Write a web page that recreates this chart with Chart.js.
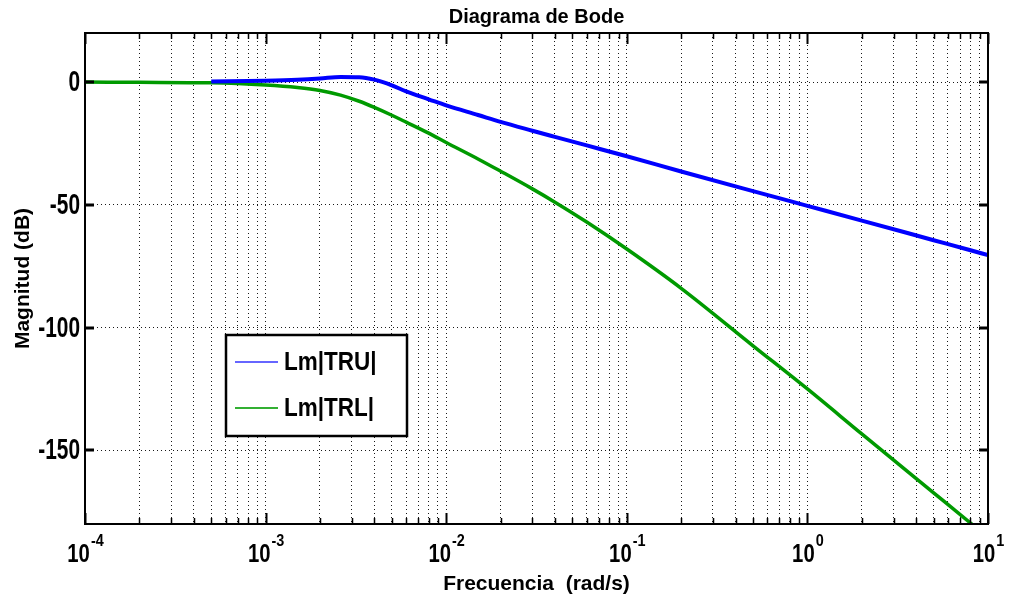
<!DOCTYPE html>
<html>
<head>
<meta charset="utf-8">
<script src="https://cdn.jsdelivr.net/npm/chart.js@4.4.0/dist/chart.umd.min.js"></script>
<style>
  body { margin: 0; background: #fff; }
</style>
</head>
<body>
<canvas id="bodeChart" width="1009" height="599"></canvas>
<script>
// frequencies (rad/s) and magnitudes (dB)
const freq = [1e-4, 2e-4, 5e-4, 1e-3, 1.5e-3, 2e-3, 2.6e-3, 3.3e-3, 4e-3, 5e-3, 6e-3, 8e-3, 1e-2, 1.5e-2, 2e-2, 3e-2, 4e-2, 6e-2, 0.1, 0.2, 0.5, 1, 2, 5, 8, 10];
const lmTRU = [null, null, 0.2, 0.6, 1.0, 1.5, 2.1, 2.0, 1.0, -1.3, -3.8, -7.0, -9.5, -13.4, -16.2, -19.8, -22.3, -25.8, -30.2, -36.4, -44.4, -50.4, -56.4, -64.4, -68.5, -70.5];
const lmTRL = [0, -0.1, -0.3, -1.2, -2.2, -3.4, -5.3, -7.8, -10.3, -13.5, -16.3, -20.8, -24.6, -31.3, -36.3, -43.5, -48.9, -57.0, -68.0, -84.0, -107.4, -125.0, -143.3, -167.3, -179.6, -185.4];

const seriesLabels = ['Lm|TRU|', 'Lm|TRL|'];
const yTicks = [-150, -100, -50, 0];
const decades = [-4, -3, -2, -1, 0, 1];

const FONT = "'Liberation Sans', Arial, sans-serif";

function points(ys) {
  return freq.map((f, i) => ({ x: f, y: ys[i] })).filter(p => p.y !== null);
}

// draw text squeezed horizontally (the original uses a narrow face)
function narrowText(ctx, text, x, y, font, sx, align) {
  ctx.save();
  ctx.font = font;
  const w = ctx.measureText(text).width * sx;
  let x0 = x;
  if (align === 'right') x0 = x - w;
  if (align === 'center') x0 = x - w / 2;
  ctx.translate(x0, y);
  ctx.scale(sx, 1);
  ctx.textAlign = 'left';
  ctx.fillText(text, 0, 0);
  ctx.restore();
  return w;
}

// frame, inward ticks, tick labels and the legend box
const matlabAxes = {
  id: 'matlabAxes',
  afterDraw(chart) {
    const { ctx, chartArea: a, scales } = chart;
    const xs = scales.x, ys = scales.y;
    ctx.save();
    ctx.fillStyle = '#000';
    ctx.strokeStyle = '#000';

    // x ticks top & bottom
    xs.ticks.forEach(t => {
      const px = Math.round(xs.getPixelForValue(t.value)) + 0.5;
      const major = Math.abs(Math.log10(t.value) - Math.round(Math.log10(t.value))) < 1e-6;
      const len = major ? 11 : 6;
      ctx.lineWidth = major ? 2 : 1.5;
      ctx.beginPath();
      ctx.moveTo(px, a.bottom); ctx.lineTo(px, a.bottom - len);
      ctx.moveTo(px, a.top); ctx.lineTo(px, a.top + len);
      ctx.stroke();
    });
    // y ticks left & right
    ctx.lineWidth = 3;
    ys.ticks.forEach(t => {
      const py = Math.round(ys.getPixelForValue(t.value));
      ctx.beginPath();
      ctx.moveTo(a.left, py); ctx.lineTo(a.left + 9, py);
      ctx.moveTo(a.right, py); ctx.lineTo(a.right - 9, py);
      ctx.stroke();
    });

    // frame
    ctx.lineWidth = 2;
    ctx.strokeRect(a.left, a.top, a.right - a.left, a.bottom - a.top);

    // y tick labels
    ctx.textBaseline = 'middle';
    ys.ticks.forEach(t => {
      const py = ys.getPixelForValue(t.value);
      narrowText(ctx, String(t.value), 80, py + 1, 'bold 29px ' + FONT, 0.72, 'right');
    });

    // x tick labels 10^n
    ctx.textBaseline = 'alphabetic';
    decades.forEach(d => {
      const px = xs.getPixelForValue(Math.pow(10, d));
      const baseFont = 'bold 26px ' + FONT;
      const expFont = 'bold 16px ' + FONT;
      ctx.font = baseFont;
      const w1 = ctx.measureText('10').width * 0.78;
      ctx.font = expFont;
      const w2 = ctx.measureText(String(d)).width * 0.9;
      const x0 = px - (w1 + w2) / 2;
      narrowText(ctx, '10', x0, 562, baseFont, 0.78, 'left');
      narrowText(ctx, String(d), x0 + w1 + 1, 546, expFont, 0.9, 'left');
    });

    // legend
    const lg = { l: 226, t: 335, r: 407, b: 436 };
    ctx.fillStyle = '#fff';
    ctx.fillRect(lg.l, lg.t, lg.r - lg.l, lg.b - lg.t);
    ctx.lineWidth = 2.5;
    ctx.strokeStyle = '#000';
    ctx.strokeRect(lg.l, lg.t, lg.r - lg.l, lg.b - lg.t);
    const sampleColors = ['#6666ff', '#33b033'];
    const rows = [362, 408];
    chart.data.datasets.forEach((ds, i) => {
      ctx.strokeStyle = sampleColors[i];
      ctx.lineWidth = 2;
      ctx.beginPath();
      ctx.moveTo(235, rows[i]); ctx.lineTo(278, rows[i]);
      ctx.stroke();
      ctx.fillStyle = '#000';
      ctx.textBaseline = 'middle';
      narrowText(ctx, ds.label, 284, rows[i] + 1, 'bold 25px ' + FONT, 0.9, 'left');
    });
    ctx.restore();
  }
};

const ctx = document.getElementById('bodeChart').getContext('2d');
const bodeChart = new Chart(ctx, {
  type: 'line',
  data: {
    datasets: [
      {
        label: seriesLabels[0],
        data: points(lmTRU),
        borderColor: '#0000ff',
        borderWidth: 4,
        pointRadius: 0,
        cubicInterpolationMode: 'monotone',
        fill: false
      },
      {
        label: seriesLabels[1],
        data: points(lmTRL),
        borderColor: '#009a00',
        borderWidth: 3.5,
        pointRadius: 0,
        cubicInterpolationMode: 'monotone',
        fill: false
      }
    ]
  },
  options: {
    responsive: false,
    animation: false,
    layout: { padding: { left: 0, right: 21, top: 0, bottom: 0 } },
    plugins: {
      legend: { display: false },
      tooltip: { enabled: false },
      title: {
        display: true,
        text: 'Diagrama de Bode',
        fullSize: false,
        color: '#000',
        font: { family: FONT, size: 20, weight: 'bold' },
        padding: { top: 5, bottom: 4 }
      }
    },
    scales: {
      x: {
        type: 'logarithmic',
        min: 1e-4,
        max: 10,
        afterBuildTicks: scale => {
          const t = [];
          for (let d = -4; d < 1; d++) {
            for (let m = 1; m < 10; m++) t.push({ value: m * Math.pow(10, d) });
          }
          t.push({ value: 10 });
          scale.ticks = t;
        },
        afterFit: scale => { scale.height = 75; },
        ticks: { display: false },
        grid: { color: 'rgba(0,0,0,0.9)', lineWidth: 1, drawTicks: false },
        border: { display: false, dash: [1, 3] },
        title: {
          display: true,
          text: 'Frecuencia  (rad/s)',
          color: '#000',
          font: { family: FONT, size: 21, weight: 'bold' },
          padding: { top: 0, bottom: 2 }
        }
      },
      y: {
        min: -180,
        max: 20,
        afterBuildTicks: scale => { scale.ticks = yTicks.map(v => ({ value: v })); },
        afterFit: scale => { scale.width = 85; },
        ticks: { display: false },
        grid: { color: 'rgba(0,0,0,0.9)', lineWidth: 1, drawTicks: false },
        border: { display: false, dash: [1, 3] },
        title: {
          display: true,
          text: 'Magnitud (dB)',
          color: '#000',
          font: { family: FONT, size: 21, weight: 'bold' },
          padding: { top: 11, bottom: 0 }
        }
      }
    }
  },
  plugins: [matlabAxes]
});
</script>
</body>
</html>
